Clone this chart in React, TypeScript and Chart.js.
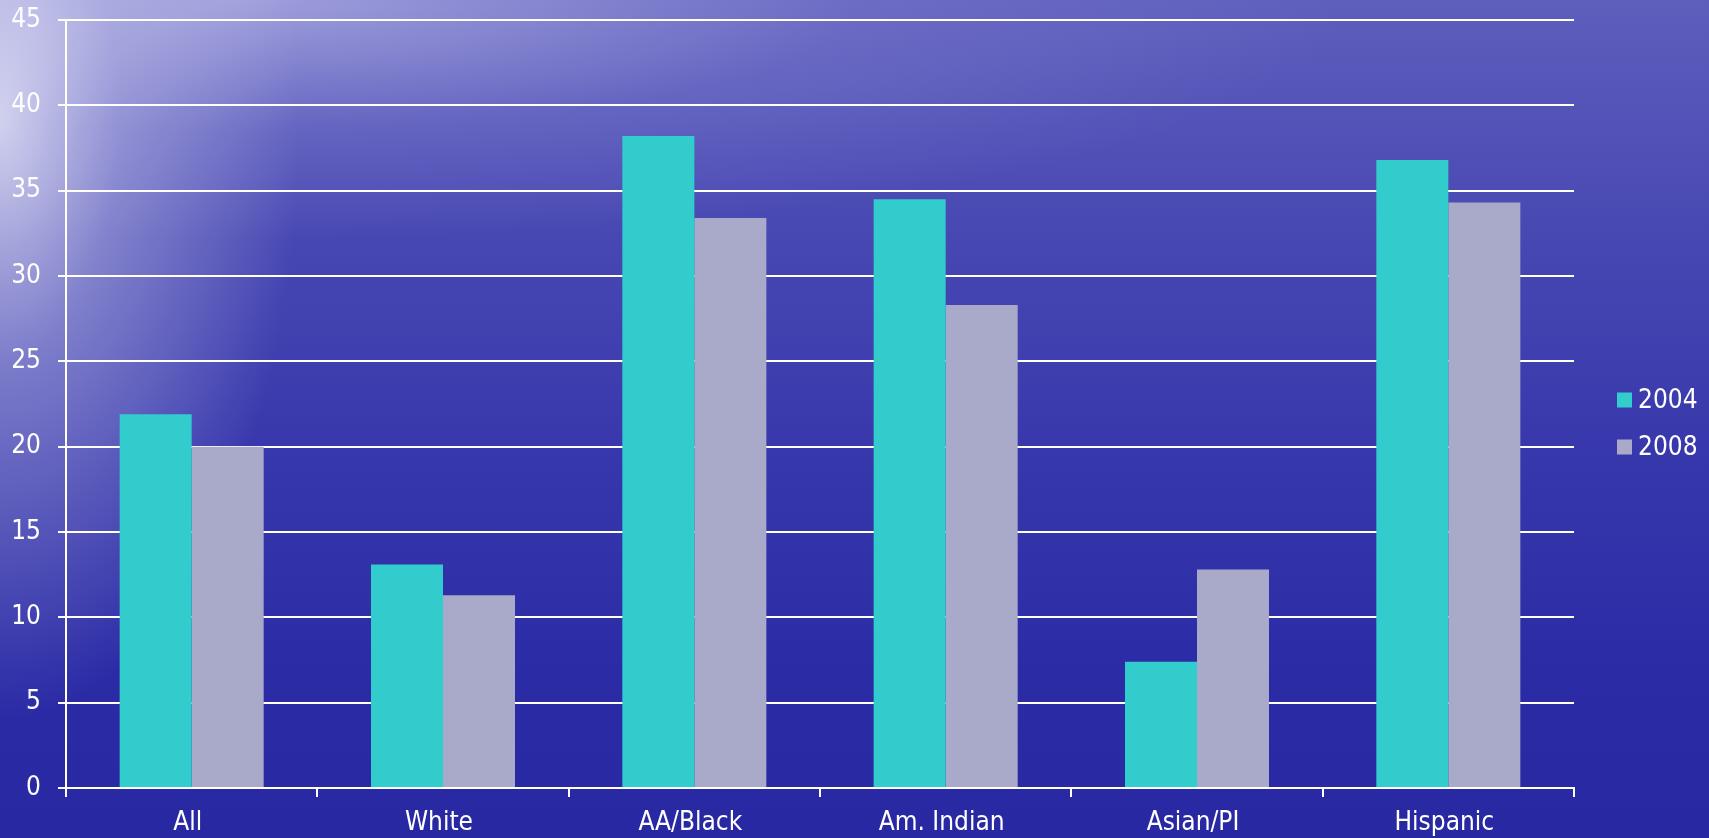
import React, { useEffect, useRef } from "react";
import { Chart, registerables } from "chart.js";

Chart.register(...registerables);

const categories = ["All", "White", "AA/Black", "Am. Indian", "Asian/PI", "Hispanic"];
const series2004 = [21.9, 13.1, 38.2, 34.5, 7.4, 36.8];
const series2008 = [20.0, 11.3, 33.4, 28.3, 12.8, 34.3];
const seriesLabels = ["2004", "2008"];
const seriesColors = ["#33CCCC", "#A9AACA"];
const yMin = 0;
const yMax = 45;
const yStep = 5;

const FONT = "'DejaVu Sans Condensed', 'DejaVu Sans', Tahoma, sans-serif";
const FONT_SIZE = 26;

const legendPlugin = {
  id: "sideLegend",
  afterDraw(chart: any) {
    const { ctx, chartArea } = chart;
    const midY = (chartArea.top + chartArea.bottom) / 2;
    const x = chartArea.right + 43;
    ctx.save();
    ctx.font = `${FONT_SIZE}px ${FONT}`;
    ctx.textBaseline = "middle";
    ctx.textAlign = "left";
    chart.data.datasets.forEach((ds: any, i: number) => {
      const cy = midY - 4 + i * 47;
      ctx.fillStyle = ds.backgroundColor;
      ctx.fillRect(x, cy - 7.5, 15, 15);
      ctx.fillStyle = "#ffffff";
      ctx.fillText(ds.label, x + 21, cy + 1);
    });
    ctx.restore();
  },
};

export default function App() {
  const canvasRef = useRef<HTMLCanvasElement | null>(null);

  useEffect(() => {
    if (!canvasRef.current) return;
    const chart = new Chart(canvasRef.current, {
      type: "bar",
      data: {
        labels: categories,
        datasets: [
          { label: seriesLabels[0], data: series2004, backgroundColor: seriesColors[0], borderWidth: 0 },
          { label: seriesLabels[1], data: series2008, backgroundColor: seriesColors[1], borderWidth: 0 },
        ],
      },
      options: {
        responsive: true,
        maintainAspectRatio: false,
        animation: false,
        layout: { padding: { top: 20, right: 135, bottom: 0, left: 0 } },
        plugins: {
          legend: { display: false },
          tooltip: { enabled: false },
        },
        datasets: {
          bar: { categoryPercentage: 0.573, barPercentage: 1.0 },
        },
        scales: {
          x: {
            grid: {
              display: true,
              drawOnChartArea: false,
              drawTicks: true,
              tickLength: 9,
              color: "#ffffff",
              lineWidth: 2,
              offset: true,
            },
            border: { display: true, color: "#ffffff", width: 2 },
            ticks: {
              color: "#ffffff",
              font: { family: FONT, size: FONT_SIZE },
              padding: 11,
              maxRotation: 0,
              labelOffset: -4,
            },
            afterFit(scale: any) {
              scale.height = 50;
              scale.paddingLeft = 0;
              scale.paddingRight = 0;
            },
          },
          y: {
            min: yMin,
            max: yMax,
            grid: {
              display: true,
              drawOnChartArea: true,
              drawTicks: true,
              tickLength: 8,
              color: "#ffffff",
              lineWidth: 2,
            },
            border: { display: true, color: "#ffffff", width: 2 },
            ticks: {
              stepSize: yStep,
              color: "#ffffff",
              font: { family: FONT, size: FONT_SIZE },
              padding: 17,
            },
            afterFit(scale: any) {
              scale.width = 66;
              scale.paddingTop = 0;
              scale.paddingBottom = 0;
            },
          },
        },
      },
      plugins: [legendPlugin],
    });
    return () => chart.destroy();
  }, []);

  const bg = [
    "radial-gradient(ellipse 300px 600px at 0px 120px, rgba(236,236,250,0.8) 0%, rgba(200,200,236,0.45) 40%, rgba(160,160,220,0) 100%)",
    "radial-gradient(ellipse 1100px 240px at 250px 0px, rgba(200,200,240,0.6) 0%, rgba(150,150,220,0.25) 55%, rgba(150,150,220,0) 100%)",
    "linear-gradient(to bottom, #5e5ebd 0%, #4848b3 28%, #3737ac 55%, #2b2ba6 80%, #2828a2 100%)",
  ].join(", ");

  return (
    <div
      style={{
        position: "fixed",
        left: 0,
        top: 0,
        width: 1709,
        height: 838,
        background: bg,
        overflow: "hidden",
      }}
    >
      <canvas ref={canvasRef} />
    </div>
  );
}
